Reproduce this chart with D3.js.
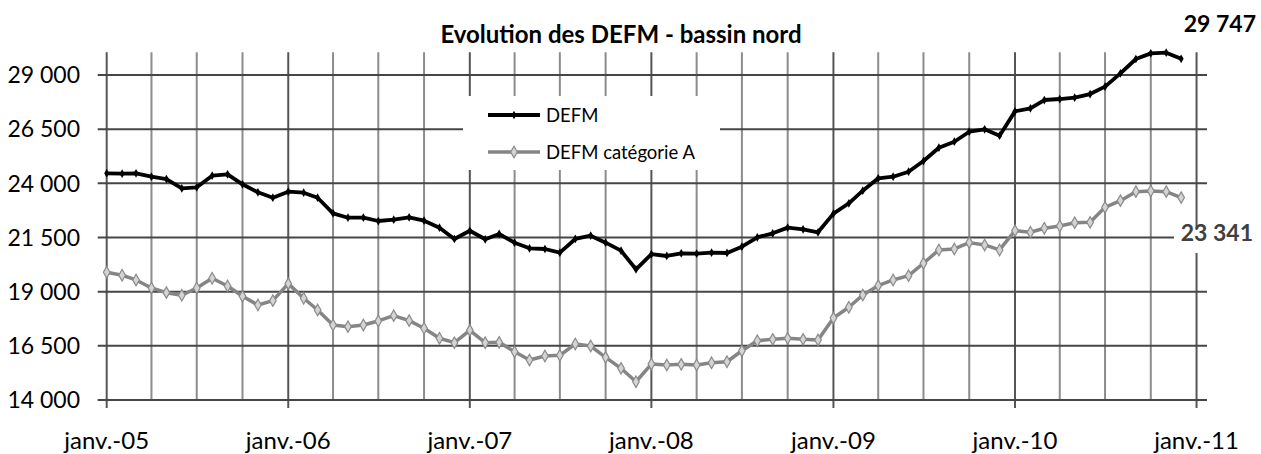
<!DOCTYPE html>
<html><head><meta charset="utf-8">
<script src="https://cdn.jsdelivr.net/npm/d3@7"></script>
<style>html,body{margin:0;padding:0;background:#fff;}svg{display:block;}</style>
</head><body>
<svg id="c" width="1261" height="454"></svg>
<script>
// ---- data ----
const title = "Evolution des DEFM - bassin nord";
const seriesNames = ["DEFM", "DEFM catégorie A"];
const startMonth = "2005-01";
const defm = [
  24462,24443,24462,24305,24198,23769,23815,24351,24415,23954,23585,23337,
  23612,23566,23335,22615,22412,22412,22260,22320,22430,22274,21951,21430,
  21810,21417,21662,21260,21000,20969,20799,21431,21583,21260,20891,20032,
  20730,20646,20769,20754,20800,20785,21077,21508,21692,21954,21877,21738,
  22600,23078,23660,24232,24305,24535,25029,25643,25920,26381,26492,26197,
  27320,27461,27844,27890,27950,28120,28460,29075,29737,29997,30028,29747
];
const defmA = [
  19895,19757,19540,19171,18954,18834,19171,19618,19263,18788,18386,18585,
  19370,18695,18155,17462,17385,17462,17648,17892,17662,17309,16848,16645,
  17215,16643,16662,16228,15845,16029,16062,16583,16491,15969,15462,14843,
  15660,15614,15646,15614,15720,15766,16274,16735,16800,16846,16800,16768,
  17786,18280,18848,19277,19540,19738,20311,20925,20971,21262,21155,20925,
  21815,21740,21925,22031,22183,22200,22892,23200,23615,23645,23615,23341
];
const yTicks = [14000,16500,19000,21500,24000,26500,29000];
const xTickLabels = ["janv.-05","janv.-06","janv.-07","janv.-08","janv.-09","janv.-10","janv.-11"];
const lastLabels = ["29 747", "23 341"];

// ---- setup ----
const svg = d3.select("#c");
const font = "Lato, 'Open Sans', sans-serif";
const parseM = d3.utcParse("%Y-%m");
const t0 = parseM(startMonth);
const months = d3.utcMonth.range(t0, d3.utcMonth.offset(t0, defm.length));

const x = d3.scaleUtc()
  .domain([t0, new Date(Date.UTC(2011,0,22))])
  .range([106.7, 1207]);
const y = d3.scaleLinear().domain([14000, 30000]).range([400, 53.3]);

const fmt = v => d3.format(",")(v).replace(/,/g, " ");

const grid = svg.append("g");
const quarters = d3.utcMonth.every(3).range(t0, new Date(Date.UTC(2011,0,2)));
const years = d3.utcYear.range(t0, new Date(Date.UTC(2011,0,2)));
grid.selectAll("line.vq").data(quarters.filter(d => d.getUTCMonth() !== 0)).join("line")
  .attr("x1", d => x(d)).attr("x2", d => x(d))
  .attr("y1", y.range()[1] - 1).attr("y2", y(14000))
  .attr("stroke", "#8c8c8c").attr("stroke-width", 2);
grid.selectAll("line.vy").data(years).join("line")
  .attr("x1", d => x(d)).attr("x2", d => x(d))
  .attr("y1", y.range()[1] - 1).attr("y2", y(14000) + 8)
  .attr("stroke", "#555").attr("stroke-width", 2);
grid.selectAll("line.h").data(yTicks).join("line")
  .attr("x1", x.range()[0] - 9).attr("x2", x.range()[1])
  .attr("y1", d => y(d)).attr("y2", d => y(d))
  .attr("stroke", "#464646").attr("stroke-width", 2);

// y labels
svg.append("g").selectAll("text").data(yTicks).join("text")
  .attr("x", 80).attr("y", d => y(d)).attr("dy", "0.36em")
  .attr("text-anchor", "end").attr("font-family", font).attr("font-size", 23)
  .attr("fill", "#000").text(d => fmt(d));

// x labels
svg.append("g").selectAll("text").data(years.concat([new Date(Date.UTC(2011,0,1))])).join("text")
  .attr("x", d => x(d)).attr("y", 449)
  .attr("text-anchor", "middle").attr("font-family", font).attr("font-size", 24)
  .attr("fill", "#000").text((d, i) => xTickLabels[i]);

// label background for 23 341
svg.append("rect").attr("x", 1174).attr("y", 230).attr("width", 87).attr("height", 23).attr("fill", "#fff");

// legend box
svg.append("rect").attr("x", 463).attr("y", 96).attr("width", 257).attr("height", 74).attr("fill", "#fff");

// lines
const line = d3.line().x((d, i) => x(months[i])).y(d => y(d)).curve(d3.curveLinear);
const diamond = d3.symbol().type(d3.symbolDiamond);

svg.append("path").datum(defmA).attr("d", line)
  .attr("fill", "none").attr("stroke", "#858585").attr("stroke-width", 3.5).attr("stroke-linejoin", "round");
svg.append("g").selectAll("path").data(defmA).join("path")
  .attr("transform", (d, i) => `translate(${x(months[i])},${y(d)})`)
  .attr("d", diamond.size(38)()).attr("fill", "#d4d4d4").attr("stroke", "#8a8a8a").attr("stroke-width", 1.2);

svg.append("path").datum(defm).attr("d", line)
  .attr("fill", "none").attr("stroke", "#000").attr("stroke-width", 3.8).attr("stroke-linejoin", "round");
svg.append("g").selectAll("path").data(defm).join("path")
  .attr("transform", (d, i) => `translate(${x(months[i])},${y(d)})`)
  .attr("d", diamond.size(22)()).attr("fill", "#000");

// legend
const lg = svg.append("g");
const legendRows = [
  {name: seriesNames[0], y: 115, stroke: "#000", w: 3.8, mfill: "#000", mstroke: "none", ms: 22},
  {name: seriesNames[1], y: 152, stroke: "#858585", w: 3.5, mfill: "#d4d4d4", mstroke: "#8a8a8a", ms: 38}
];
legendRows.forEach(r => {
  lg.append("line").attr("x1", 488).attr("x2", 540).attr("y1", r.y).attr("y2", r.y)
    .attr("stroke", r.stroke).attr("stroke-width", r.w);
  lg.append("path").attr("transform", `translate(514,${r.y})`).attr("d", diamond.size(r.ms)())
    .attr("fill", r.mfill).attr("stroke", r.mstroke).attr("stroke-width", 1.2);
  lg.append("text").attr("x", 546).attr("y", r.y).attr("dy", "0.36em")
    .attr("font-family", font).attr("font-size", 18.5).attr("fill", "#000").text(r.name);
});

// title
svg.append("text").attr("x", 621).attr("y", 43).attr("text-anchor", "middle")
  .attr("font-family", font).attr("font-weight", "bold").attr("font-size", 24)
  .attr("fill", "#000").text(title);

// end value labels
svg.append("text").attr("x", 1256).attr("y", 32).attr("text-anchor", "end")
  .attr("font-family", font).attr("font-weight", "bold").attr("font-size", 23)
  .attr("fill", "#000").text(lastLabels[0]);
svg.append("text").attr("x", 1253).attr("y", 241).attr("text-anchor", "end")
  .attr("font-family", font).attr("font-weight", "bold").attr("font-size", 23)
  .attr("fill", "#404040").text(lastLabels[1]);
</script>
</body></html>
